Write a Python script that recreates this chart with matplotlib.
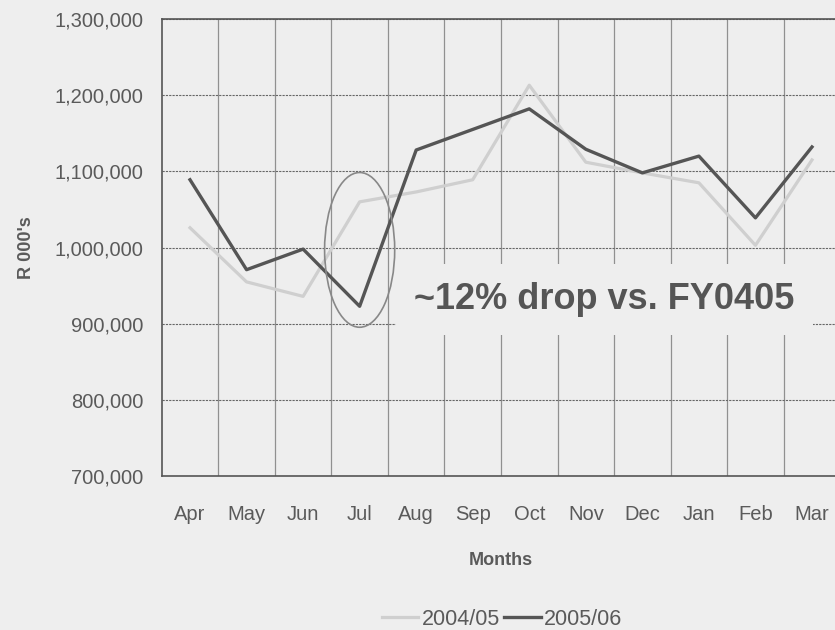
import matplotlib.pyplot as plt
from matplotlib.patches import Ellipse
from matplotlib.ticker import FuncFormatter, FixedLocator

plt.rcParams['font.family'] = ['Liberation Sans', 'DejaVu Sans']

months = ["Apr", "May", "Jun", "Jul", "Aug", "Sep", "Oct", "Nov", "Dec", "Jan", "Feb", "Mar"]
fy0405 = [1026000, 955000, 936000, 1060000, 1073000, 1089000, 1213000, 1112000, 1098000, 1085000, 1003000, 1115000]
fy0506 = [1089000, 971000, 998000, 923000, 1128000, 1155000, 1182000, 1129000, 1098000, 1120000, 1039000, 1132000]
yticks = [700000, 800000, 900000, 1000000, 1100000, 1200000, 1300000]

bg = "#eeeeee"
txt = "#5a5a5a"
fig = plt.figure(figsize=(8.35, 6.3), dpi=100, facecolor=bg)
ax = fig.add_axes([0.1937, 0.244, 0.8126, 0.726])
ax.set_facecolor(bg)

x = list(range(len(months)))
l1, = ax.plot(x, fy0405, color="#cfcfcf", lw=2.3, label="2004/05", zorder=3)
l2, = ax.plot(x, fy0506, color="#555555", lw=2.4, label="2005/06", zorder=4)

ax.set_xlim(-0.5, 11.5)
ax.set_ylim(700000, 1300000)
ax.set_yticks(yticks)
ax.yaxis.set_major_formatter(FuncFormatter(lambda v, p: f"{int(v):,}"))
ax.set_xticks(x)
ax.set_xticklabels(months)
ax.xaxis.set_minor_locator(FixedLocator([i + 0.5 for i in range(11)]))

ax.grid(axis="y", which="major", color="#666666", lw=0.8, ls=(0, (2, 1)), zorder=1)
ax.grid(axis="x", which="minor", color="#909090", lw=0.9, zorder=1)
ax.tick_params(axis="both", which="both", length=0, colors=txt, labelsize=14.5)
ax.tick_params(axis="y", pad=13)
ax.tick_params(axis="x", pad=21)
for s in ax.spines.values():
    s.set_color("#555555")
    s.set_linewidth(1.2)

ax.set_ylabel("R 000's", fontsize=13, fontweight="bold", color=txt, labelpad=14)
ax.set_xlabel("Months", fontsize=13, fontweight="bold", color=txt, labelpad=20)

ell = Ellipse((3, 997000), width=1.24, height=203000, fill=False, ec="#888888", lw=1.2, zorder=5)
ax.add_patch(ell)

ax.text(7.33, 932000, "~12% drop vs. FY0405", fontsize=26, fontweight="bold", color="#555555",
        ha="center", va="center", zorder=6,
        bbox=dict(boxstyle="square,pad=0.5", fc=bg, ec="none"))

fig.legend(handles=[l1, l2], loc="center", bbox_to_anchor=(0.601, 0.017), ncol=2, frameon=False,
           fontsize=15.5, handlelength=1.7, handletextpad=0.15, columnspacing=0.2,
           labelcolor=txt, borderpad=0)

fig.savefig("out.png", dpi=100, facecolor=bg)
